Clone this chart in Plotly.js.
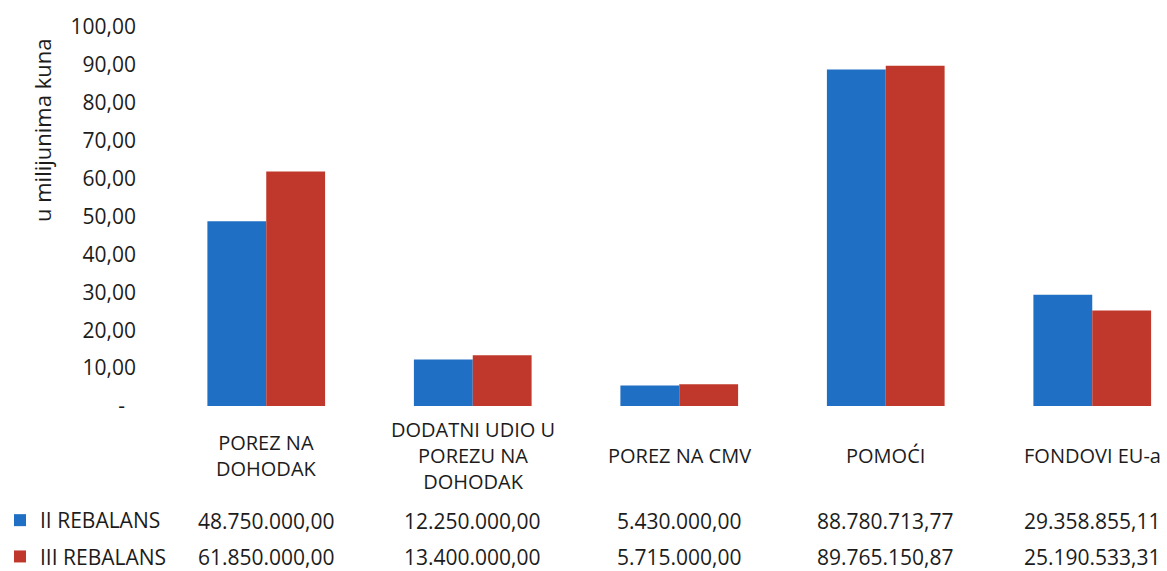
<!DOCTYPE html>
<html>
<head>
<meta charset="utf-8">
<script src="https://cdn.plot.ly/plotly-3.0.1.min.js"></script>
<style>html,body{margin:0;padding:0;background:#fff;}#chart{width:1167px;height:571px;}</style>
</head>
<body>
<div id="chart"></div>
<script>
// ---- data ----
const categories = ['POREZ NA<br>DOHODAK', 'DODATNI UDIO U<br>POREZU NA<br>DOHODAK', 'POREZ NA CMV', 'POMOĆI', 'FONDOVI EU-a'];
const seriesNames = ['II REBALANS', 'III REBALANS'];
const rebalans2 = [48750000.00, 12250000.00, 5430000.00, 88780713.77, 29358855.11];
const rebalans3 = [61850000.00, 13400000.00, 5715000.00, 89765150.87, 25190533.31];
const yTickVals = [0, 10, 20, 30, 40, 50, 60, 70, 80, 90, 100];
const yTitle = 'u milijunima kuna';

// ---- helpers ----
function fmt(v) {
  const parts = v.toFixed(2).split('.');
  return parts[0].replace(/\B(?=(\d{3})+(?!\d))/g, '.') + ',' + parts[1];
}
const W = 1167, H = 571;
const mL = 163, mR = 0, mT = 27, mB = 165;
const plotH = H - mT - mB;
const plotW = W - mL - mR;
const py = p => (H - mB - p) / plotH;   // pixel y -> paper y
const px = p => (p - mL) / plotW;       // pixel x -> paper x

const FONT = '"Open Sans", "Noto Sans", sans-serif';
const TXT = '#1c1c1c';
const colors = ['#1f6fc4', '#c0382b'];
const seriesVals = [rebalans2, rebalans3];
const xIdx = categories.map((c, i) => i);

const traces = seriesVals.map((vals, s) => ({
  type: 'bar',
  name: seriesNames[s],
  legendgroup: 'g' + s,
  x: xIdx,
  y: vals.map(v => v / 1e6),
  marker: {color: colors[s], line: {width: 0}},
  hoverinfo: 'skip'
}));

const annotations = [];
// category labels
categories.forEach((c, i) => {
  annotations.push({
    xref: 'x', yref: 'paper', x: i, y: py(455), xanchor: 'center', yanchor: 'middle',
    text: c, showarrow: false, align: 'center',
    font: {family: FONT, size: 20, color: TXT}
  });
});
// data table
const rowY = [521, 557];
seriesVals.forEach((vals, s) => {
  vals.forEach((v, i) => {
    annotations.push({
      xref: 'x', yref: 'paper', x: i, y: py(rowY[s]), xanchor: 'center', yanchor: 'middle',
      text: fmt(v), showarrow: false,
      font: {family: FONT, size: 21, color: TXT}
    });
  });
});
// y-axis title
annotations.push({
  xref: 'paper', yref: 'paper', x: px(42), y: py(131), xanchor: 'center', yanchor: 'middle',
  text: yTitle, textangle: -90, showarrow: false,
  font: {family: FONT, size: 22, color: TXT}
});

const layout = {
  width: W, height: H,
  margin: {l: mL, r: mR, t: mT, b: mB, pad: 0, autoexpand: false},
  paper_bgcolor: '#ffffff', plot_bgcolor: '#ffffff',
  font: {family: FONT, size: 21, color: TXT},
  barmode: 'group', bargap: 0.43, bargroupgap: 0,
  showlegend: true,
  legend: {
    x: px(0), xanchor: 'left', y: py(500), yanchor: 'top',
    orientation: 'v', traceorder: 'grouped', tracegroupgap: 6,
    font: {family: FONT, size: 21, color: TXT},
    bgcolor: 'rgba(0,0,0,0)', borderwidth: 0, itemclick: false
  },
  xaxis: {
    type: 'linear', range: [-0.5, -0.5 + plotW / 206.5],
    showticklabels: false, showgrid: false, zeroline: false, showline: false, ticks: ''
  },
  yaxis: {
    range: [0, 100], tickmode: 'array', tickvals: yTickVals,
    ticktext: yTickVals.map(v => v === 0 ? '-\u00a0\u00a0' : fmt(v)),
    showgrid: false, zeroline: false, showline: false, ticks: '',
    ticklabelstandoff: 26,
    tickfont: {family: FONT, size: 21, color: TXT}
  },
  annotations: annotations
};

Plotly.newPlot('chart', traces, layout, {displayModeBar: false, staticPlot: true});
</script>
</body>
</html>
